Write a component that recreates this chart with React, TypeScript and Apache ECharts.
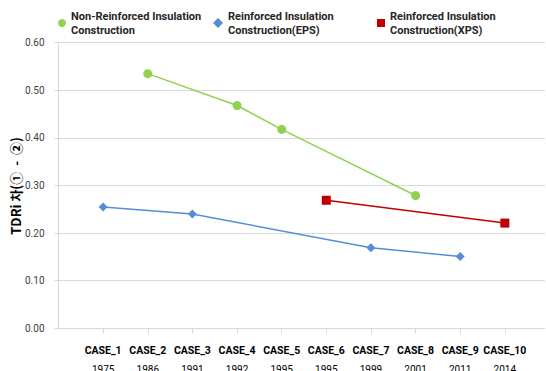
import React, { useEffect, useRef } from "react";
import * as echarts from "echarts";

const caseLabels = ["CASE_1", "CASE_2", "CASE_3", "CASE_4", "CASE_5", "CASE_6", "CASE_7", "CASE_8", "CASE_9", "CASE_10"];
const caseYears = ["1975", "1986", "1991", "1992", "1995", "1995", "1999", "2001", "2011", "2014"];

const nonReinforced: (number | null)[] = [null, 0.535, null, 0.468, 0.418, null, null, 0.279, null, null];
const reinforcedEPS: (number | null)[] = [0.255, null, 0.24, null, null, null, 0.169, null, 0.151, null];
const reinforcedXPS: (number | null)[] = [null, null, null, null, null, 0.269, null, null, null, 0.221];

const yTicks = [0, 0.1, 0.2, 0.3, 0.4, 0.5, 0.6];

const seriesNames = [
  "Non-Reinforced Insulation Construction",
  "Reinforced Insulation Construction(EPS)",
  "Reinforced Insulation Construction(XPS)",
];
const legendLines: Record<string, string> = {
  [seriesNames[0]]: "Non-Reinforced Insulation\nConstruction",
  [seriesNames[1]]: "Reinforced Insulation\nConstruction(EPS)",
  [seriesNames[2]]: "Reinforced Insulation\nConstruction(XPS)",
};

const FONT = "Roboto, 'Noto Sans', sans-serif";

const toPoints = (vals: (number | null)[]) =>
  vals.map((v, i) => (v == null ? null : [i + 1, v])).filter((p) => p !== null) as number[][];

export default function App() {
  const ref = useRef<HTMLDivElement>(null);

  useEffect(() => {
    if (!ref.current) return;
    const chart = echarts.init(ref.current, undefined, { renderer: "svg" });
    const caseIdx = caseLabels.map((_, i) => i + 1);

    const legendBase = {
      orient: "horizontal" as const,
      top: 9,
      padding: 0,
      itemGap: 0,
      formatter: (name: string) => legendLines[name] || name,
      textStyle: {
        fontFamily: FONT,
        fontSize: 11,
        fontWeight: "bold" as const,
        color: "#262626",
        lineHeight: 14,
      },
    };

    chart.setOption({
      animation: false,
      backgroundColor: "#ffffff",
      grid: {
        left: 58.5,
        right: 1,
        top: 42.7,
        bottom: 42.7,
        containLabel: false,
        outerBoundsMode: "none",
      },
      legend: [
        { ...legendBase, left: 58, itemWidth: 8, itemHeight: 8, data: [{ name: seriesNames[0], icon: "circle" }] },
        { ...legendBase, left: 213, itemWidth: 10, itemHeight: 10, data: [{ name: seriesNames[1], icon: "diamond" }] },
        { ...legendBase, left: 377, itemWidth: 8, itemHeight: 8, data: [{ name: seriesNames[2], icon: "rect" }] },
      ],
      xAxis: {
        type: "value",
        min: 0,
        max: 10.9,
        interval: 1,
        axisLine: { show: true, lineStyle: { color: "#d9d9d9", width: 1 } },
        axisTick: { show: true, length: 5, customValues: caseIdx, lineStyle: { color: "#d9d9d9" } },
        splitLine: { show: false },
        axisLabel: {
          customValues: caseIdx,
          showMinLabel: true,
          showMaxLabel: true,
          hideOverlap: false,
          margin: 13,
          formatter: (v: number) => {
            const i = Math.round(v) - 1;
            if (i < 0 || i >= caseLabels.length || Math.abs(v - Math.round(v)) > 1e-6) return "";
            return `{a|${caseLabels[i]}}\n{b|${caseYears[i]}}`;
          },
          rich: {
            a: { fontFamily: FONT, fontSize: 10.5, fontWeight: "bold", color: "#000000", lineHeight: 19 },
            b: { fontFamily: FONT, fontSize: 10, color: "#000000", lineHeight: 19 },
          },
        },
      },
      yAxis: {
        type: "value",
        min: yTicks[0],
        max: yTicks[yTicks.length - 1],
        interval: 0.1,
        axisLine: { show: true, lineStyle: { color: "#d9d9d9", width: 1 } },
        axisTick: { show: true, length: 4, lineStyle: { color: "#d9d9d9" } },
        splitLine: { show: true, lineStyle: { color: "#d9d9d9", width: 1 } },
        axisLabel: {
          margin: 14,
          fontFamily: FONT,
          fontSize: 10,
          color: "#404040",
          formatter: (v: number) => v.toFixed(2),
        },
      },
      graphic: [
        {
          type: "text",
          x: 15,
          y: 186,
          rotation: Math.PI / 2,
          style: {
            text: "TDRi 차(①  -  ②)",
            fontFamily: "'Noto Sans CJK KR', 'Noto Sans', sans-serif",
            fontSize: 13,
            fontWeight: "bold",
            fill: "#000000",
            align: "center",
            verticalAlign: "middle",
          },
        },
      ],
      series: [
        {
          name: seriesNames[0],
          type: "line",
          data: toPoints(nonReinforced),
          symbol: "circle",
          symbolSize: 9,
          itemStyle: { color: "#92d050" },
          lineStyle: { color: "#92d050", width: 1.5 },
        },
        {
          name: seriesNames[1],
          type: "line",
          data: toPoints(reinforcedEPS),
          symbol: "diamond",
          symbolSize: 9,
          itemStyle: { color: "#558ed5" },
          lineStyle: { color: "#558ed5", width: 1.5 },
        },
        {
          name: seriesNames[2],
          type: "line",
          data: toPoints(reinforcedXPS),
          symbol: "rect",
          symbolSize: 9,
          itemStyle: { color: "#c00000" },
          lineStyle: { color: "#c00000", width: 1.5 },
        },
      ],
    });

    return () => chart.dispose();
  }, []);

  return (
    <div
      ref={ref}
      style={{ position: "fixed", left: 0, top: 0, width: 546, height: 371 }}
    />
  );
}
